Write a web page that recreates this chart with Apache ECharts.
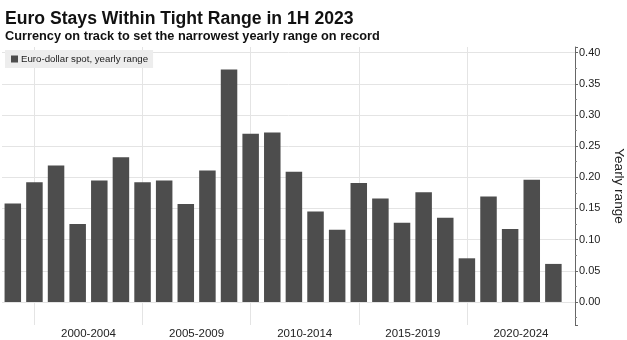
<!DOCTYPE html>
<html><head><meta charset="utf-8">
<script src="https://cdn.jsdelivr.net/npm/echarts@6/dist/echarts.min.js"></script>
<style>html,body{margin:0;padding:0;background:#fff}#c{width:627px;height:340px}</style>
</head><body><div id="c"></div>
<script>
const years = [1998,1999,2000,2001,2002,2003,2004,2005,2006,2007,2008,2009,2010,2011,2012,2013,2014,2015,2016,2017,2018,2019,2020,2021,2022,2023];
const ranges = [0.158,0.192,0.219,0.125,0.195,0.232,0.192,0.195,0.157,0.211,0.373,0.270,0.272,0.209,0.145,0.116,0.191,0.166,0.127,0.176,0.135,0.070,0.169,0.117,0.196,0.061];
const periodStarts = [2000,2005,2010,2015,2020];
const periodLabels = ['2000-2004','2005-2009','2010-2014','2015-2019','2020-2024'];
const seriesName = 'Euro-dollar spot, yearly range';
const titleText = 'Euro Stays Within Tight Range in 1H 2023';
const subtitleText = 'Currency on track to set the narrowest yearly range on record';
const yName = 'Yearly range';

const FONT = "'Liberation Sans', Arial, sans-serif";
const xMin = years[0] - 0.5;
const xMax = years[years.length - 1] + 1;
const xStep = 0.5;
// vertical grid lines at period boundaries (bars are placed at year end)
const boundaryPos = periodStarts.map(s => s - 1);
const splitColors = Array.from({length: 10}, (_, k) => {
  const v = xMin + xStep * k;
  return boundaryPos.some(b => (((v - b) % 5) + 5) % 5 === 0) ? '#e4e4e4' : 'rgba(0,0,0,0)';
});

const chart = echarts.init(document.getElementById('c'));
chart.setOption({
  animation: false,
  backgroundColor: '#ffffff',
  title: [
    {text: titleText, left: 5, top: 10, padding: 0,
     textStyle: {fontFamily: FONT, fontSize: 17.6, fontWeight: 'bold', color: '#111'}},
    {text: subtitleText, left: 5, top: 30, padding: 0,
     textStyle: {fontFamily: FONT, fontSize: 12.75, fontWeight: 'bold', color: '#111'}}
  ],
  legend: {
    data: [seriesName], left: 5, top: 50, padding: [4, 5, 4, 6],
    backgroundColor: '#ededed', itemWidth: 7, itemHeight: 7, icon: 'rect',
    textStyle: {fontFamily: FONT, fontSize: 9.7, color: '#222', padding: [0,0,0,-2]},
    selectedMode: false
  },
  grid: {left: 2, right: 52, top: 47, bottom: 15, containLabel: false, outerBoundsMode: 'none'},
  xAxis: {
    type: 'value', min: xMin, max: xMax, interval: xStep,
    axisLine: {show: false}, axisTick: {show: false},
    splitLine: {show: true, lineStyle: {color: splitColors, width: 1}},
    axisLabel: {
      margin: 3, fontFamily: FONT, fontSize: 11.5, color: '#222',
      showMinLabel: true, showMaxLabel: true,
      formatter: v => {
        const i = periodStarts.findIndex(s => Math.abs(s - 1 + 2.5 - v) < 1e-6);
        return i >= 0 ? periodLabels[i] : '';
      }
    }
  },
  yAxis: {
    type: 'value', position: 'right', min: -0.037, max: 0.409, splitNumber: 9,
    name: yName, nameLocation: 'middle', nameRotate: -90, nameGap: 36,
    nameTextStyle: {fontFamily: FONT, fontSize: 13.5, color: '#222'},
    axisLine: {show: true, lineStyle: {color: '#666', width: 1}},
    axisTick: {show: true, length: 3, lineStyle: {color: '#666'}},
    minorTick: {show: true, splitNumber: 2, length: 2, lineStyle: {color: '#888'}},
    splitLine: {show: true, showMinLine: false, showMaxLine: false, lineStyle: {color: '#e4e4e4'}},
    axisLabel: {
      margin: 4, fontFamily: FONT, fontSize: 11, color: '#222',
      showMinLabel: false, showMaxLabel: false,
      formatter: v => v.toFixed(2)
    }
  },
  series: [{
    name: seriesName, type: 'bar', barWidth: 16.5,
    itemStyle: {color: '#4d4d4d'},
    data: years.map((y, i) => [y, ranges[i]])
  }]
});
</script></body></html>
